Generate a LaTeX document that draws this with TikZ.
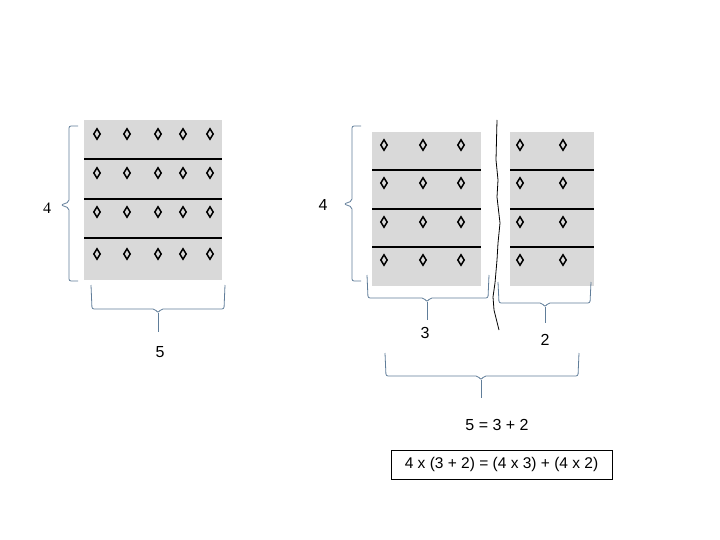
\documentclass[tikz,border=0pt]{standalone}
\usepackage{fontspec}
\setmainfont{Liberation Sans}
\newfontfamily\serifnum{Liberation Serif}
\usetikzlibrary{shapes.geometric}

\definecolor{bracecol}{RGB}{96,125,153}
\definecolor{arraygray}{RGB}{217,217,217}

\tikzset{
  gem/.style={diamond, draw, line width=1.5pt, inner sep=0pt, minimum width=7pt, minimum height=11pt},
  brace/.style={draw=bracecol, line width=0.8pt, rounded corners=2pt},
  rowline/.style={line width=1.6pt},
  numlabel/.style={font=\fontsize{16}{18}\selectfont}
}

\begin{document}
\begin{tikzpicture}[x=1pt,y=-1pt]
\useasboundingbox (0,0) rectangle (720,540);

% Left array: 4 rows of 5
\fill[arraygray] (84,120) rectangle (222,280);
\foreach \y in {159,199,238} \draw[rowline] (84,\y) -- (222,\y);
\foreach \y [count=\r] in {134,173,212,254}
  \foreach \x [count=\c] in {97,127,158,183,210}
    \node[gem] (a-\r-\c) at (\x,\y) {};

% Left brace and its label
\draw[brace] (78,126) -- (69,126) -- (69,202) -- (61,205) -- (69,208) -- (69,281) -- (78,281);
\node[numlabel] (fourA) at (47,208) {\serifnum 4};

% Brace under left array
\draw[brace] (91,285) -- (92,309) -- (155,309) -- (158,313) -- (161,309) -- (224,309) -- (225,285);
\draw[brace] (158,313) -- (158,332);
\node[numlabel] (fiveA) at (160,352) {5};

% Right array, first part: 4 rows of 3
\fill[arraygray] (372,132) rectangle (481,286);
\foreach \y in {170,209,247} \draw[rowline] (372,\y) -- (481,\y);
\foreach \y [count=\r] in {145,183,222,260}
  \foreach \x [count=\c] in {384,423,461}
    \node[gem] (b-\r-\c) at (\x,\y) {};

% Right array, second part: 4 rows of 2
\fill[arraygray] (510,132) rectangle (594,286);
\foreach \y in {170,209,247} \draw[rowline] (510,\y) -- (594,\y);
\foreach \y [count=\r] in {145,183,222,260}
  \foreach \x [count=\c] in {520,563}
    \node[gem] (c-\r-\c) at (\x,\y) {};

% Cut between the two parts
\draw[line width=0.8pt] (497,120) -- (496,160) -- (498,180) -- (497,197) -- (500,223) -- (498,243)
  -- (497,260) -- (495,283) -- (493,297) -- (494,310) -- (499,330);

% Right brace and its label
\draw[brace] (361,126) -- (352,126) -- (352,201) -- (344,204) -- (352,207) -- (352,281) -- (361,281);
\node[numlabel] (fourB) at (323,205) {4};

% Braces under the two parts
\draw[brace] (367,275) -- (368,298) -- (424,298) -- (427,302) -- (430,298) -- (488,298) -- (489,275);
\draw[brace] (427,302) -- (427,320);
\node[numlabel] (three) at (425,333) {3};

\draw[brace] (498,282) -- (499,303) -- (542,303) -- (545,307) -- (548,303) -- (590,303) -- (591,282);
\draw[brace] (545,307) -- (545,323);
\node[numlabel] (two) at (545,340) {2};

% Brace under both parts
\draw[brace] (385,353) -- (386,376) -- (478,376) -- (481,380) -- (484,376) -- (578,376) -- (579,353);
\draw[brace] (481,380) -- (481,398);
\node[numlabel] (sum) at (497,425) {5 = 3 + 2};

% Distributive law
\node[draw, line width=0.8pt, minimum width=221pt, minimum height=29pt, inner sep=0pt,
  font=\fontsize{15.5}{18}\selectfont] (law) at (501.5,464.5) {4 x (3 + 2) = (4 x 3) + (4 x 2)};
\end{tikzpicture}
\end{document}
